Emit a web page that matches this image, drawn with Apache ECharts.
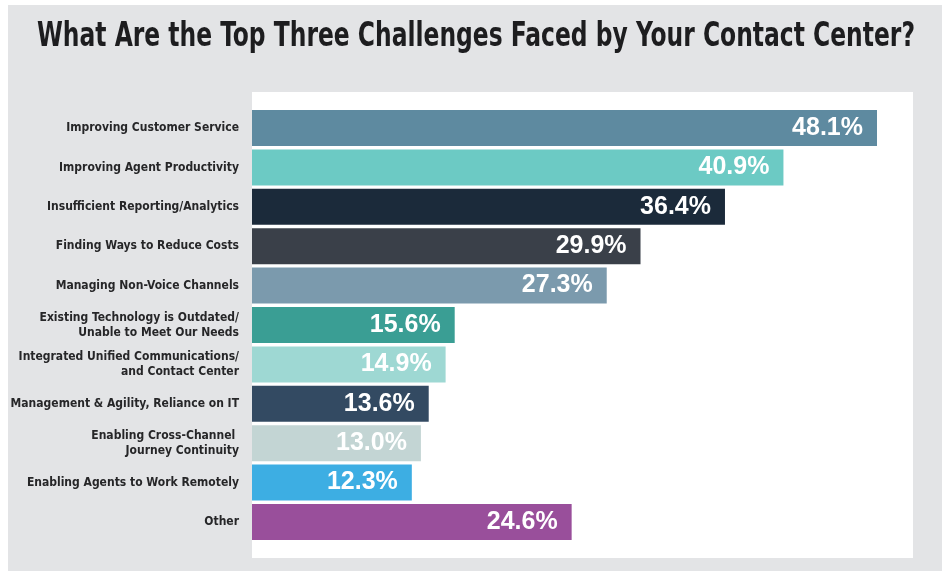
<!DOCTYPE html>
<html>
<head>
<meta charset="utf-8">
<title>Contact Center Challenges</title>
<script src="https://cdn.jsdelivr.net/npm/echarts@6/dist/echarts.min.js"></script>
<style>
  html, body { margin: 0; padding: 0; background: #ffffff; }
  #chart { width: 942px; height: 571px; }
</style>
</head>
<body>
<div id="chart"></div>
<script>
// Survey responses: share of respondents naming each challenge in their top three
const titleText = 'What Are the Top Three Challenges Faced by Your Contact Center?';
const categories = [
  'Improving Customer Service',
  'Improving Agent Productivity',
  'Insufficient Reporting/Analytics',
  'Finding Ways to Reduce Costs',
  'Managing Non-Voice Channels',
  'Existing Technology is Outdated/\nUnable to Meet Our Needs',
  'Integrated Unified Communications/\nand Contact Center',
  'Management & Agility, Reliance on IT',
  'Enabling Cross-Channel \nJourney Continuity',
  'Enabling Agents to Work Remotely',
  'Other'
];
const values = [48.1, 40.9, 36.4, 29.9, 27.3, 15.6, 14.9, 13.6, 13.0, 12.3, 24.6];
const barColors = [
  '#5e8aa0', '#6ccac4', '#1b2a3a', '#3a4049', '#7b9aad', '#3a9e94',
  '#9ed8d3', '#334a62', '#c3d5d4', '#3daee3', '#994f9b'
];

const condensedFont = '"DejaVu Sans Condensed", "Liberation Sans Narrow", sans-serif';
const titleFont = 'bold 34px ' + condensedFont;

// Squeeze the headline horizontally so it spans a fixed width, like a compressed display face
const measureCtx = document.createElement('canvas').getContext('2d');
measureCtx.font = titleFont;
const titleScale = Math.min(1, 878 / measureCtx.measureText(titleText).width);

const chart = echarts.init(document.getElementById('chart'), null, { renderer: 'canvas' });

chart.setOption({
  backgroundColor: '#ffffff',
  animation: false,
  graphic: [
    { type: 'rect', z: -10, silent: true, shape: { x: 8, y: 5, width: 934, height: 566 }, style: { fill: '#e3e4e6' } },
    { type: 'rect', z: -9, silent: true, shape: { x: 252, y: 92, width: 661, height: 466 }, style: { fill: '#ffffff' } },
    {
      type: 'text', silent: true, x: 476, y: 20, scaleX: titleScale, scaleY: 1,
      style: {
        text: titleText,
        font: titleFont,
        fill: '#1d1d1f',
        textAlign: 'center',
        textVerticalAlign: 'top'
      }
    }
  ],
  grid: { left: 252, right: 65, top: 108.3, height: 433.4, containLabel: false, outerBoundsMode: 'none' },
  xAxis: {
    type: 'value',
    min: 0,
    max: 48.1,
    show: false
  },
  yAxis: {
    type: 'category',
    inverse: true,
    data: categories,
    axisLine: { show: false },
    axisTick: { show: false },
    axisLabel: {
      margin: 13,
      align: 'right',
      fontFamily: condensedFont,
      fontWeight: 'bold',
      fontSize: 12,
      lineHeight: 15,
      padding: [3, 0, 0, 0],
      color: '#262628'
    }
  },
  series: [{
    type: 'bar',
    data: values.map((v, i) => ({ value: v, itemStyle: { color: barColors[i] } })),
    barCategoryGap: '8.6%',
    label: {
      show: true,
      position: 'insideRight',
      distance: 14,
      formatter: p => p.value.toFixed(1) + '%',
      fontFamily: '"Liberation Sans", Arial, sans-serif',
      fontWeight: 'bold',
      fontSize: 25,
      color: '#ffffff'
    }
  }]
});
</script>
</body>
</html>
